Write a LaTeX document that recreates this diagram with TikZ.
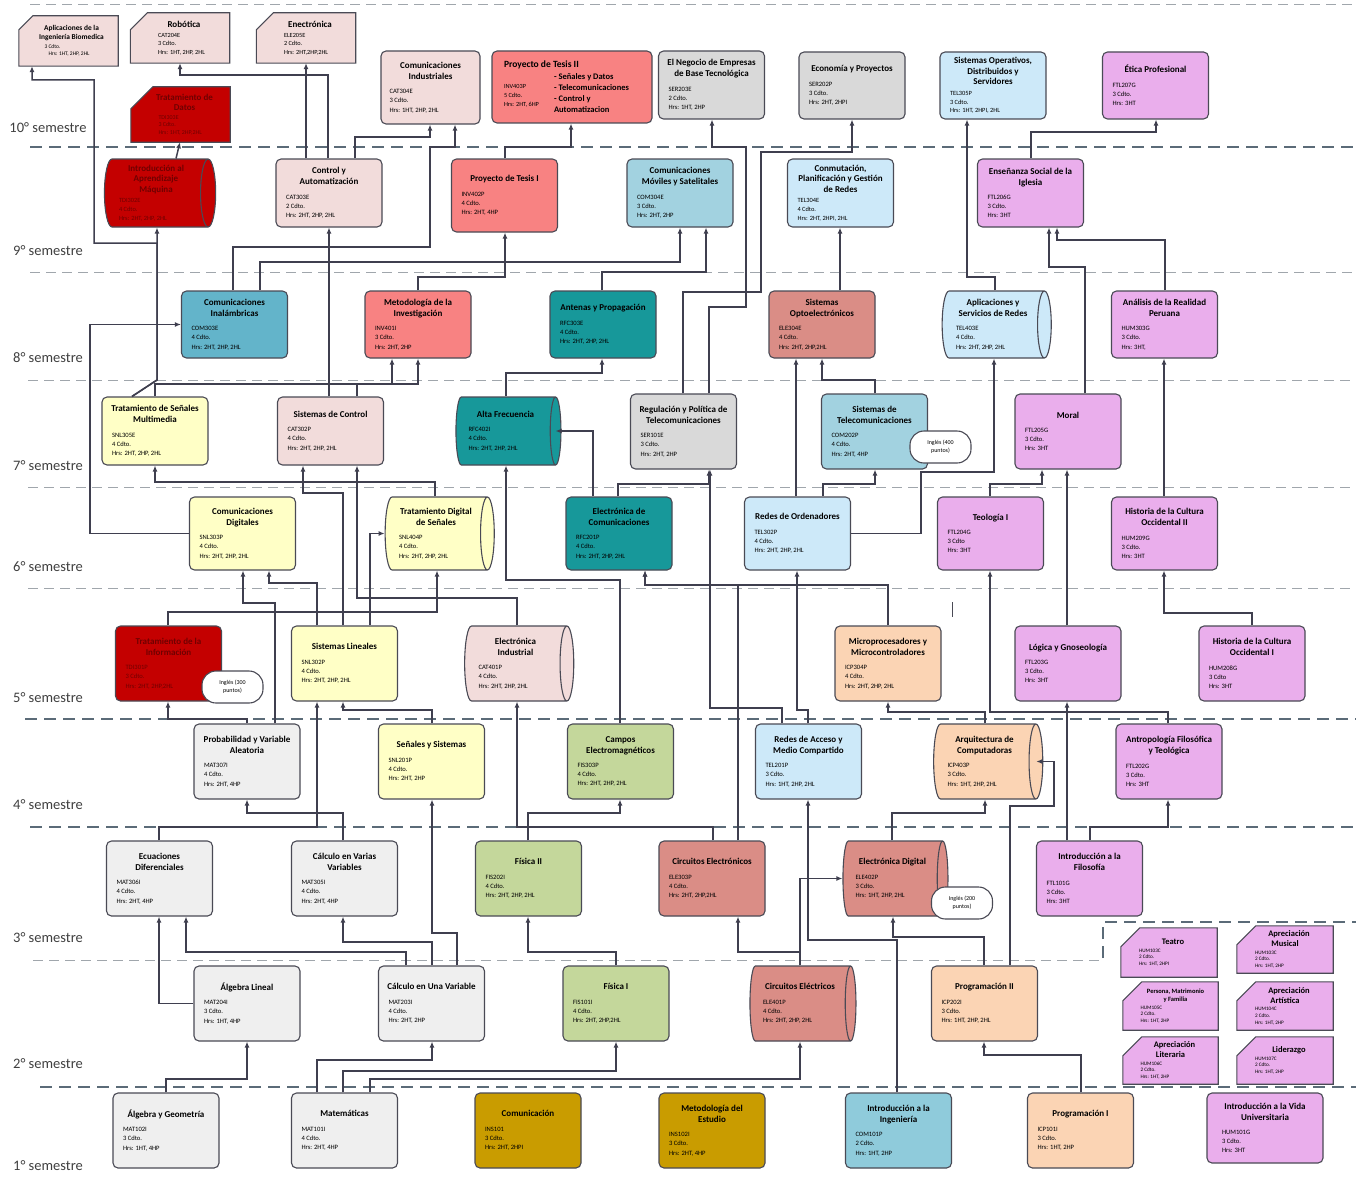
\documentclass[tikz,border=0pt]{standalone}
\usepackage{fontspec}
\setmainfont{Carlito}
\usetikzlibrary{arrows.meta,shapes.geometric}
\pgfdeclarelayer{bg}
\pgfsetlayers{bg,main}
\definecolor{lc}{HTML}{4A4A55}
\definecolor{cc}{HTML}{3F3F4F}
\definecolor{beige}{HTML}{F2DCDB}
\definecolor{salm}{HTML}{F88282}
\definecolor{gry}{HTML}{D9D9D9}
\definecolor{lgry}{HTML}{EFEFEF}
\definecolor{lblu}{HTML}{CDE9F9}
\definecolor{pnk}{HTML}{EAAEEC}
\definecolor{dred}{HTML}{C40000}
\definecolor{dtx}{HTML}{700000}
\definecolor{mblu}{HTML}{63B4CA}
\definecolor{tl}{HTML}{17989A}
\definecolor{rose}{HTML}{DA8D86}
\definecolor{ltl}{HTML}{A2D2E0}
\definecolor{yel}{HTML}{FFFFC6}
\definecolor{pch}{HTML}{FBD4B4}
\definecolor{grn}{HTML}{C4D79B}
\definecolor{gold}{HTML}{C99C00}
\definecolor{iing}{HTML}{8FCBDB}
\definecolor{semc}{HTML}{404040}
\definecolor{dlbc}{HTML}{5B6B78}
\definecolor{dllc}{HTML}{A0A6AC}
\newcommand\ct[4]{{\centering\bfseries\fontsize{9}{11}\selectfont #1\par}\vspace{5pt}{\leftskip=7pt\fontsize{6.6}{9.2}\selectfont #2\\#3\\#4\par}}
\newcommand\ctt[4]{{\centering\bfseries\fontsize{9}{10.5}\selectfont #1\par}\vspace{2pt}{\leftskip=7pt\fontsize{6.4}{8.6}\selectfont #2\\#3\\#4\par}}
\newcommand\cardct[4]{{\centering\bfseries\fontsize{9}{10.5}\selectfont\hspace*{8pt}#1\par}\vspace{2pt}{\leftskip=20pt\fontsize{6.3}{8.2}\selectfont #2\\#3\\#4\par}}
\newcommand\elct[4]{{\centering\bfseries\fontsize{8.5}{10}\selectfont\hspace*{8pt}#1\par}\vspace{1pt}{\leftskip=12pt\fontsize{5.2}{6.6}\selectfont #2\\#3\\#4\par}}
\newcommand\cardshape[3]{\draw[draw=lc, line width=1.1pt, fill=#2] (#1.south west) -- (#1.south east) -- (#1.north east) -- ([xshift=#3]#1.north west) -- ([yshift=-#3]#1.north west) -- cycle;}
\tikzset{
 crs/.style={draw=lc, line width=1.1pt, rounded corners=5pt, minimum width=106pt, minimum height=70pt, text width=100pt, align=flush left, inner sep=0pt},
 cyl/.style={cylinder, shape border rotate=0, aspect=0.27, draw=lc, line width=1.1pt, minimum width=68pt, minimum height=105pt, text width=88pt, align=flush left, inner sep=0pt},
 cardn/.style={minimum width=99pt, minimum height=50pt, text width=84pt, align=flush left, inner sep=0pt},
 elc/.style={minimum width=96pt, minimum height=48pt, text width=84pt, align=flush left, inner sep=0pt},
 bub/.style={draw=lc, line width=1.1pt, fill=white, rounded corners=14pt, minimum width=61pt, minimum height=32pt, align=center, inner sep=0pt, font=\fontsize{6}{8}\selectfont},
 con/.style={draw=cc, line width=1.5pt, -{Latex[length=6pt,width=5pt]}},
 sem/.style={font=\fontsize{14.5}{16}\selectfont, text=semc},
 dll/.style={draw=dllc, line width=1pt, dash pattern=on 10pt off 6pt},
 dlb/.style={draw=dlbc, line width=1.5pt, dash pattern=on 12pt off 7pt}
}
\begin{document}
\begin{tikzpicture}[x=1pt,y=-1pt]
\useasboundingbox (0,0) rectangle (1356,1180);
\begin{pgfonlayer}{bg}
\fill[white] (0,0) rectangle (1356,1180);
\draw[dll] (30,5) -- (1356,5);
\draw[dlb] (30,147) -- (1356,147);
\draw[dll] (30,272) -- (1356,272);
\draw[dll] (28,380) -- (1356,380);
\draw[dll] (28,487) -- (1356,487);
\draw[dll] (28,588) -- (1356,588);
\draw[dlb] (25,719) -- (1356,719);
\draw[dlb] (30,827) -- (1356,827);
\draw[dll] (33,960) -- (1103,960);
\draw[dlb] (40,1087) -- (1356,1087);
\draw[dlb] (1103,958) -- (1103,922) -- (1356,922);
\end{pgfonlayer}
% semester labels
\node[sem] (s10) at (48,128) {10° semestre};
\node[sem] (s9) at (48,251) {9° semestre};
\node[sem] (s8) at (48,358) {8° semestre};
\node[sem] (s7) at (48,466) {7° semestre};
\node[sem] (s6) at (48,567) {6° semestre};
\node[sem] (s5) at (48,698) {5° semestre};
\node[sem] (s4) at (48,805) {4° semestre};
\node[sem] (s3) at (48,938) {3° semestre};
\node[sem] (s2) at (48,1064) {2° semestre};
\node[sem] (s1) at (48,1166) {1° semestre};
% ---------- row 10
\node[cardn] (apb) at (68.5,41) {{\centering\bfseries\fontsize{7.4}{9}\selectfont\hspace*{6pt}Aplicaciones de la\\\hspace*{6pt}Ingeniería Biomedica\par}\vspace{1pt}{\leftskip=18pt\fontsize{5.5}{7.5}\selectfont 3 Cdto.\\\hspace*{4pt}Hrs: 1HT, 2HP, 2HL\par}};
\node[cardn] (rob) at (180,38) {\cardct{Robótica}{CAT204E}{3 Cdto.}{Hrs: 1HT, 2HP, 2HL}};
\node[cardn] (ene) at (306,38) {\cardct{Enectrónica}{ELE205E}{2 Cdto.}{Hrs: 2HT,2HP,2HL}};
\node[cardn, minimum height=55pt, text=dtx] (tda) at (180.5,114.5) {{\centering\bfseries\fontsize{9}{10.5}\selectfont\hspace*{8pt}Tratamiento de\\\hspace*{8pt}Datos\par}\vspace{1pt}{\leftskip=20pt\fontsize{6}{7.4}\selectfont TDI303E\\3 Cdto.\\Hrs: 1HT, 2HP,2HL\par}};
\node[crs, minimum height=73pt, minimum width=99pt, text width=96pt, fill=beige] (cin) at (430.5,87.5) {\ct{Comunicaciones\\Industriales}{CAT304E}{3 Cdto.}{Hrs: 1HT, 2HP, 2HL}};
\node[crs, minimum width=160pt, minimum height=72pt, text width=136pt, fill=salm] (pt2) at (572,87) {{\bfseries\fontsize{9.5}{11}\selectfont Proyecto de Tesis II\par}\vspace{0pt}\begin{minipage}[t]{50pt}\vspace{5pt}\fontsize{6.3}{9}\selectfont INV403P\\5 Cdto.\\Hrs: 2HT, 6HP\end{minipage}\begin{minipage}[t]{86pt}\bfseries\fontsize{8.5}{11}\selectfont - Señales y Datos\\- Telecomunicaciones\\- Control y\\Automatizacion\end{minipage}};
\node[crs, minimum height=68pt, fill=gry] (neg) at (711.5,85) {\ct{El Negocio de Empresas\\de Base Tecnológica}{SER203E}{2 Cdto.}{Hrs: 1HT, 2HP}};
\node[crs, minimum height=67pt, fill=gry] (eco) at (852,85.5) {\ct{Economía y Proyectos}{SER202P}{3 Cdto.}{Hrs: 2HT, 2HPI}};
\node[crs, minimum height=67pt, fill=lblu] (sop) at (993,85.5) {\ctt{Sistemas Operativos,\\Distribuidos y\\Servidores}{TEL305P}{3 Cdto.}{Hrs: 1HT, 2HPI, 2HL}};
\node[crs, minimum height=67pt, fill=pnk] (eti) at (1155.5,85.5) {\ct{Ética Profesional}{FTL207G}{3 Cdto.}{Hrs: 3HT}};
% ---------- row 9
\node[cyl, fill=dred, text=dtx, minimum height=104pt] (iam) at (156,193) {\ctt{Introducción al\\Aprendizaje\\Máquina}{TDI302E}{4 Cdto.}{Hrs: 2HT, 2HP, 2HL}};
\node[crs, minimum height=68pt, fill=beige] (cya) at (329,193) {\ct{Control y\\Automatización}{CAT303E}{2 Cdto.}{Hrs: 2HT, 2HP, 2HL}};
\node[crs, minimum height=73pt, fill=salm] (pt1) at (504.5,195.5) {\ct{Proyecto de Tesis I}{INV402P}{4 Cdto.}{Hrs: 2HT, 4HP}};
\node[crs, minimum height=68pt, fill=ltl] (cms) at (680,193) {\ct{Comunicaciones\\Móviles y Satelitales}{COM304E}{3 Cdto.}{Hrs: 2HT, 2HP}};
\node[crs, minimum height=68pt, fill=lblu] (cpg) at (840.5,193) {\ctt{Conmutación,\\Planificación y Gestión\\de Redes}{TEL304E}{4 Cdto.}{Hrs: 2HT, 2HPI, 2HL}};
\node[crs, minimum height=68pt, fill=pnk] (esi) at (1030.5,193) {\ct{Enseñanza Social de la\\Iglesia}{FTL206G}{3 Cdto.}{Hrs: 3HT}};
% ---------- row 8
\node[crs, minimum height=67pt, fill=mblu] (cia) at (234.5,324.5) {\ct{Comunicaciones\\Inalámbricas}{COM303E}{4 Cdto.}{Hrs: 2HT, 2HP, 2HL}};
\node[crs, minimum height=67pt, fill=salm] (mdi) at (418,324.5) {\ct{Metodología de la\\Investigación}{INV401I}{3 Cdto.}{Hrs: 2HT, 2HP}};
\node[crs, minimum height=67pt, fill=tl] (ayp) at (603,324.5) {\ct{Antenas y Propagación}{RFC303E}{4 Cdto.}{Hrs: 2HT, 2HP, 2HL}};
\node[crs, minimum height=67pt, fill=rose] (sopt) at (822,324.5) {\ct{Sistemas\\Optoelectrónicos}{ELE304E}{4 Cdto.}{Hrs: 2HT, 2HP,2HL}};
\node[cyl, minimum width=67pt, minimum height=106pt, fill=lblu] (asr) at (993,324.5) {\ct{Aplicaciones y\\Servicios de Redes}{TEL403E}{4 Cdto.}{Hrs: 2HT, 2HP, 2HL}};
\node[crs, minimum height=67pt, fill=pnk] (arp) at (1164.5,324.5) {\ct{Análisis de la Realidad\\Peruana}{HUM303G}{3 Cdto.}{Hrs: 3HT,}};
% ---------- row 7
\node[crs, minimum height=68pt, fill=yel] (tsm) at (155,431) {\ct{Tratamiento de Señales\\Multimedia}{SNL305E}{4 Cdto.}{Hrs: 2HT, 2HP, 2HL}};
\node[crs, minimum height=68pt, fill=beige] (sdc) at (330.5,431) {\ct{Sistemas de Control}{CAT302P}{4 Cdto.}{Hrs: 2HT, 2HP, 2HL}};
\node[cyl, fill=tl] (afr) at (505.5,431) {\ct{Alta Frecuencia}{RFC402I}{4 Cdto.}{Hrs: 2HT, 2HP, 2HL}};
\node[crs, minimum height=75pt, fill=gry] (rpt) at (683.5,431.5) {\ct{Regulación y Política de\\Telecomunicaciones}{SER101E}{3 Cdto.}{Hrs: 2HT, 2HP}};
\node[crs, minimum height=75pt, fill=ltl] (stel) at (874.5,431.5) {\ct{Sistemas de\\Telecomunicaciones}{COM202P}{4 Cdto.}{Hrs: 2HT, 4HP}};
\node[bub] (i400) at (940.5,447) {Inglés (400\\puntos)};
\node[crs, minimum height=75pt, fill=pnk] (mor) at (1068,431.5) {\ct{Moral}{FTL205G}{3 Cdto.}{Hrs: 3HT}};
% ---------- row 6
\node[crs, minimum height=73pt, fill=yel] (cdg) at (242.5,533.5) {\ct{Comunicaciones\\Digitales}{SNL303P}{4 Cdto.}{Hrs: 2HT, 2HP, 2HL}};
\node[cyl, minimum width=73pt, minimum height=104pt, fill=yel] (tds) at (436,533.5) {\ct{Tratamiento Digital\\de Señales}{SNL404P}{4 Cdto.}{Hrs: 2HT, 2HP, 2HL}};
\node[crs, minimum height=73pt, fill=tl] (eco2) at (619,533.5) {\ct{Electrónica de\\Comunicaciones}{RFC201P}{4 Cdto.}{Hrs: 2HT, 2HP, 2HL}};
\node[crs, minimum height=73pt, fill=lblu] (rdo) at (797.5,533.5) {\ct{Redes de Ordenadores}{TEL302P}{4 Cdto.}{Hrs: 2HT, 2HP, 2HL}};
\node[crs, minimum height=73pt, fill=pnk] (teo) at (990.5,533.5) {\ct{Teología I}{FTL204G}{3 Cdto}{Hrs: 3HT}};
\node[crs, minimum height=73pt, fill=pnk] (hc2) at (1164.5,533.5) {\ct{Historia de la Cultura\\Occidental II}{HUM209G}{3 Cdto.}{Hrs: 3HT}};
% ---------- row 5
\node[crs, minimum height=75pt, fill=dred, text=dtx] (tin) at (168.5,663.5) {\ct{Tratamiento de la\\Información}{TDI301P}{3 Cdto.}{Hrs: 2HT, 2HP,2HL}};
\node[bub] (i300) at (232.5,687) {Inglés (300\\puntos)};
\node[crs, minimum height=75pt, fill=yel] (sli) at (344.5,663.5) {\ct{Sistemas Lineales}{SNL302P}{4 Cdto.}{Hrs: 2HT, 2HP, 2HL}};
\node[cyl, minimum width=75pt, fill=beige] (ein) at (515.5,663.5) {\ct{Electrónica\\Industrial}{CAT401P}{4 Cdto.}{Hrs: 2HT, 2HP, 2HL}};
\node[crs, minimum height=75pt, fill=pch] (mpc) at (888,663.5) {\ct{Microprocesadores y\\Microcontroladores}{ICP304P}{4 Cdto.}{Hrs: 2HT, 2HP, 2HL}};
\node[crs, minimum height=75pt, fill=pnk] (lgn) at (1068,663.5) {\ct{Lógica y Gnoseología}{FTL203G}{3 Cdto.}{Hrs: 3HT}};
\node[crs, minimum height=75pt, fill=pnk] (hc1) at (1252,663.5) {\ct{Historia de la Cultura\\Occidental I}{HUM208G}{3 Cdto}{Hrs: 3HT}};
% ---------- row 4
\node[crs, minimum height=75pt, fill=lgry] (pva) at (247,761.5) {\ct{Probabilidad y Variable\\Aleatoria}{MAT307I}{4 Cdto.}{Hrs: 2HT, 4HP}};
\node[crs, minimum height=75pt, fill=yel] (sys) at (431.5,761.5) {\ct{Señales y Sistemas}{SNL201P}{4 Cdto.}{Hrs: 2HT, 2HP}};
\node[crs, minimum height=75pt, fill=grn] (cem) at (620.5,761.5) {\ct{Campos\\Electromagnéticos}{FIS303P}{4 Cdto.}{Hrs: 2HT, 2HP, 2HL}};
\node[crs, minimum height=75pt, fill=lblu] (rac) at (808.5,761.5) {\ct{Redes de Acceso y\\Medio Compartido}{TEL201P}{3 Cdto.}{Hrs: 1HT, 2HP, 2HL}};
\node[cyl, minimum width=75pt, fill=pch] (arq) at (984.5,761.5) {\ct{Arquitectura de\\Computadoras}{ICP403P}{3 Cdto.}{Hrs: 1HT, 2HP, 2HL}};
\node[crs, minimum height=75pt, fill=pnk] (aft) at (1169,761.5) {\ct{Antropología Filosófica\\y Teológica}{FTL202G}{3 Cdto.}{Hrs: 3HT}};
% ---------- row 3
\node[crs, minimum height=75pt, fill=lgry] (edi) at (159.5,878.5) {\ct{Ecuaciones\\Diferenciales}{MAT306I}{4 Cdto.}{Hrs: 2HT, 4HP}};
\node[crs, minimum height=75pt, fill=lgry] (cvv) at (344.5,878.5) {\ct{Cálculo en Varias\\Variables}{MAT305I}{4 Cdto.}{Hrs: 2HT, 4HP}};
\node[crs, minimum height=75pt, fill=grn] (fi2) at (528.5,878.5) {\ct{Física II}{FIS202I}{4 Cdto.}{Hrs: 2HT, 2HP, 2HL}};
\node[crs, minimum height=75pt, fill=rose] (cel) at (712,878.5) {\ct{Circuitos Electrónicos}{ELE303P}{4 Cdto.}{Hrs: 2HT, 2HP,2HL}};
\node[cyl, minimum width=75pt, fill=rose] (edg) at (892.5,878.5) {\ct{Electrónica Digital}{ELE402P}{3 Cdto.}{Hrs: 1HT, 2HP, 2HL}};
\node[bub] (i200) at (962,903) {Inglés (200\\puntos)};
\node[crs, minimum height=75pt, fill=pnk] (ifi) at (1089.5,878.5) {\ct{Introducción a la\\Filosofía}{FTL101G}{3 Cdto.}{Hrs: 3HT}};
% ---------- row 2
\node[crs, minimum height=75pt, fill=lgry] (ali) at (247,1003.5) {\ct{Álgebra Lineal}{MAT204I}{3 Cdto.}{Hrs: 1HT, 4HP}};
\node[crs, minimum height=75pt, fill=lgry] (cuv) at (431.5,1003.5) {\ct{Cálculo en Una Variable}{MAT203I}{4 Cdto.}{Hrs: 2HT, 2HP}};
\node[crs, minimum height=75pt, fill=grn] (fi1) at (616,1003.5) {\ct{Física I}{FIS101I}{4 Cdto.}{Hrs: 2HT, 2HP,2HL}};
\node[cyl, minimum width=75pt, minimum height=106pt, fill=rose] (cee) at (800,1003.5) {\ct{Circuitos Eléctricos}{ELE401P}{4 Cdto.}{Hrs: 2HT, 2HP, 2HL}};
\node[crs, minimum height=75pt, fill=pch] (pr2) at (984.5,1003.5) {\ct{Programación II}{ICP202I}{3 Cdto.}{Hrs: 1HT, 2HP, 2HL}};
\node[elc, minimum height=49pt] (tea) at (1169,952.5) {\elct{Teatro}{HUM103C}{2 Cdto.}{Hrs: 1HT, 2HPI}};
\node[elc, minimum height=47pt] (amu) at (1285,949.5) {\elct{Apreciación\\Musical}{HUM103C}{2 Cdto.}{Hrs: 1HT, 2HP}};
\node[elc, minimum width=95pt] (pmf) at (1170.5,1006) {{\centering\bfseries\fontsize{6.5}{8}\selectfont\hspace*{10pt}Persona, Matrimonio\\\hspace*{10pt}y Familia\par}\vspace{1pt}{\leftskip=12pt\fontsize{5.2}{6.6}\selectfont HUM105C\\2 Cdto.\\Hrs: 1HT, 2HP\par}};
\node[elc] (aar) at (1285,1006) {\elct{Apreciación\\Artística}{HUM104C}{2 Cdto.}{Hrs: 1HT, 2HP}};
\node[elc, minimum width=95pt, minimum height=47pt] (apl) at (1170.5,1060.5) {\elct{Apreciación\\Literaria}{HUM106C}{2 Cdto.}{Hrs: 1HT, 2HP}};
\node[elc, minimum height=47pt] (lid) at (1285,1060.5) {\elct{Liderazgo}{HUM107C}{2 Cdto.}{Hrs: 1HT, 2HP}};
% ---------- row 1
\node[crs, minimum height=75pt, fill=lgry] (agl) at (166,1130.5) {\ct{Álgebra y Geometría}{MAT102I}{3 Cdto.}{Hrs: 1HT, 4HP}};
\node[crs, minimum height=75pt, fill=lgry] (mat) at (344.5,1130.5) {\ct{Matemáticas}{MAT101I}{4 Cdto.}{Hrs: 2HT, 4HP}};
\node[crs, minimum height=75pt, fill=gold] (com) at (528,1130.5) {\ct{Comunicación}{INS101}{3 Cdto.}{Hrs: 2HT, 2HPI}};
\node[crs, minimum height=75pt, fill=gold] (mde) at (712,1130.5) {\ct{Metodología del\\Estudio}{INS102I}{3 Cdto.}{Hrs: 2HT, 4HP}};
\node[crs, minimum height=75pt, fill=iing] (iin) at (898.5,1130.5) {\ct{Introducción a la\\Ingeniería}{COM101P}{2 Cdto.}{Hrs: 1HT, 2HP}};
\node[crs, minimum height=75pt, fill=pch] (pr1) at (1080.5,1130.5) {\ct{Programación I}{ICP101I}{3 Cdto.}{Hrs: 1HT, 2HP}};
\node[crs, minimum height=70pt, minimum width=116pt, fill=pnk] (ivu) at (1265,1128) {\ct{Introducción a la Vida\\Universitaria}{HUM101G}{3 Cdto.}{Hrs: 3HT}};
% card shapes
\begin{pgfonlayer}{bg}
\cardshape{apb}{beige}{14pt}
\cardshape{rob}{beige}{17pt}
\cardshape{ene}{beige}{17pt}
\cardshape{tda}{dred}{22pt}
\cardshape{tea}{pnk}{19pt}
\cardshape{amu}{pnk}{19pt}
\cardshape{pmf}{pnk}{19pt}
\cardshape{aar}{pnk}{19pt}
\cardshape{apl}{pnk}{19pt}
\cardshape{lid}{pnk}{19pt}
\end{pgfonlayer}
\draw[lc, line width=0.8pt] (952,602) -- (952,617);
% ---------- connectors
\draw[con] (agl.north -| 166,0) |- (247,1079) -- (ali.south -| 247,0);
\draw[con] (mat.north -| 317,0) |- (432,1060) -- (cuv.south -| 432,0);
\draw[con] (mat.north -| 343,0) |- (616,1071) -- (fi1.south -| 616,0);
\draw[con] (mat.north -| 370,0) |- (800,1079) -- (cee.south -| 800,0);
\draw[con] (pr1.north -| 1081,0) |- (984,1055) -- (pr2.south -| 984,0);
\draw[con] (iin.north -| 897,0) |- (808,940) -- (rac.south -| 808,0);
\draw[con] (ali.west) -| (edi.south -| 159,0);
\draw[con] (cuv.north -| 406,0) |- (186,952) -- (edi.south -| 186,0);
\draw[con] (cuv.north -| 432,0) |- (343,942) -- (cvv.south -| 343,0);
\draw[con] (cuv.north -| 457,0) |- (432,933) -- (sys.south -| 432,0);
\draw[con] (fi1.north -| 616,0) |- (528,952) -- (fi2.south -| 528,0);
\draw[con] (cee.north -| 800,0) |- (738,952) -- (cel.south -| 738,0);
\draw[con] (cee.north -| 800,0) |- (edg.west);
\draw[con] (pr2.north -| 984,0) |- (893,937) -- (edg.south -| 893,0);
\draw[con] (pr2.north -| 1010,0) |- (1054,806) |- ([xshift=-7pt]arq.east);
\draw[con] (edg.north -| 892,0) |- (985,813) -- (arq.south -| 985,0);
\draw[con] (arq.north -| 985,0) |- (888,712) -- (mpc.south -| 888,0);
\draw[con] (aft.north -| 1168,0) |- (990,712) -- (teo.south -| 990,0);
\draw[con] (ifi.north -| 1067,0) -- (lgn.south -| 1067,0);
\draw[con] (ifi.north -| 1090,0) |- (1168,827) -- (aft.south -| 1168,0);
\draw[con] (teo.north -| 990,0) |- (1042,484) -- (mor.south -| 1042,0);
\draw[con] (lgn.north -| 1067,0) -- (mor.south -| 1067,0);
\draw[con] (hc1.north -| 1252,0) |- (1164,613) -- (hc2.south -| 1164,0);
\draw[con] (hc2.north -| 1164,0) -- (arp.south -| 1164,0);
\draw[con] (arp.north -| 1165,0) |- (1057,240) -- (esi.south -| 1057,0);
\draw[con] (mor.north -| 1085,0) |- (1049,267) -- (esi.south -| 1049,0);
\draw[con] (esi.north -| 1031,0) |- (1156,132) -- (eti.south -| 1156,0);
\draw[con] (asr.north -| 995,0) |- (967,277) -- (sop.south -| 967,0);
\draw[con] (rdo.east) -| (921,472) -| (asr.south -| 994,0);
\draw[con] (rdo.north -| 823,0) |- (875,484) -- (stel.south -| 875,0);
\draw[con] (rdo.north -| 796,0) -- (sopt.south -| 796,0);
\draw[con] (stel.north -| 875,0) |- (822,380) -- (sopt.south -| 822,0);
\draw[con] (sopt.north -| 840,0) -- (cpg.south -| 840,0);
\draw[con] (rpt.north -| 709,0) |- (746,307) |- (712,147) -- (neg.south -| 712,0);
\draw[con] (rpt.north -| 683,0) |- (761,292) |- (852,152) -- (eco.south -| 852,0);
\draw[con] (eco2.north -| 618,0) |- (709,484) -- (rpt.south -| 709,0);
\draw[con] (rac.north -| 782,0) |- (710,708) -- (rpt.south -| 710,0);
\draw[con] (rac.north -| 808,0) |- (797,710) -- (rdo.south -| 797,0);
\draw[con] (eco2.north -| 593,0) |- ([xshift=-6pt]afr.east);
\draw[con] (cem.north -| 620,0) |- (506,580) -- (afr.south -| 506,0);
\draw[con] (afr.north -| 506,0) |- (602,373) -- (ayp.south -| 602,0);
\draw[con] (ayp.north -| 602,0) |- (706,272) -- (cms.south -| 706,0);
\draw[con] (cia.north -| 260,0) |- (680,262) -- (cms.south -| 680,0);
\draw[con] (cia.north -| 233,0) |- (430,247) |- (455,147) -- (cin.south -| 455,0);
\draw[con] (cya.north -| 355,0) |- (430,137) -- (cin.south -| 430,0);
\draw[con] (cya.north -| 328,0) |- (180,75) -- (rob.south -| 180,0);
\draw[con] (cya.north -| 306,0) -- (ene.south -| 306,0);
\draw[con] (sdc.north -| 329,0) -- (cya.south -| 329,0);
\draw[con] (tsm.north -| 132,0) -- (157,380) -- (iam.south -| 157,0);
\draw[con] (tsm.north -| 132,0) -- (157,380) |- (94,243) |- (32,80) -- (apb.south -| 32,0);
\draw[con] (tsm.north -| 155,0) |- (392,384) -- (mdi.south -| 392,0);
\draw[con] (sdc.north -| 357,0) |- (418,384) -- (mdi.south -| 418,0);
\draw[con] (mdi.north -| 418,0) |- (505,277) -- (pt1.south -| 505,0);
\draw[con] (pt1.north -| 505,0) |- (571,147) -- (pt2.south -| 571,0);
\draw[con] (iam.north -| 176,0) -- (tda.south -| 180,0);
\draw[con] (cdg.west) -| (90,324.5) -- (cia.west);
\draw[con] (tds.north -| 435,0) |- (155,482) -- (tsm.south -| 155,0);
\draw[con] (sli.north -| 343,0) |- (303,493) -- (sdc.south -| 303,0);
\draw[con] (ein.north -| 517,0) |- (357,598) -- (sdc.south -| 357,0);
\draw[con] (tin.north -| 168,0) |- (437,612) -- (tds.south -| 437,0);
\draw[con] (sli.north -| 370,0) |- (tds.west);
\draw[con] (pva.north -| 275,0) |- (243,603) -- (cdg.south -| 243,0);
\draw[con] (sli.north -| 317,0) |- (269,583) -- (cdg.south -| 269,0);
\draw[con] (pva.north -| 247,0) |- (168,719) -- (tin.south -| 168,0);
\draw[con] (sys.north -| 432,0) |- (343,710) -- (sli.south -| 343,0);
\draw[con] (edi.north -| 159,0) |- (317,827) -- (sli.south -| 317,0);
\draw[con] (cvv.north -| 343,0) |- (247,813) -- (pva.south -| 247,0);
\draw[con] (cel.north -| 713,0) |- (517,827) -- (ein.south -| 517,0);
\draw[con] (fi2.north -| 528,0) |- (620,813) -- (cem.south -| 620,0);
\draw[con] (mpc.north -| 888,0) |- (645,585) -- (eco2.south -| 645,0);
\draw[con] (cel.north -| 738,0) |- (645,585) -- (eco2.south -| 645,0);
\end{tikzpicture}
\end{document}
